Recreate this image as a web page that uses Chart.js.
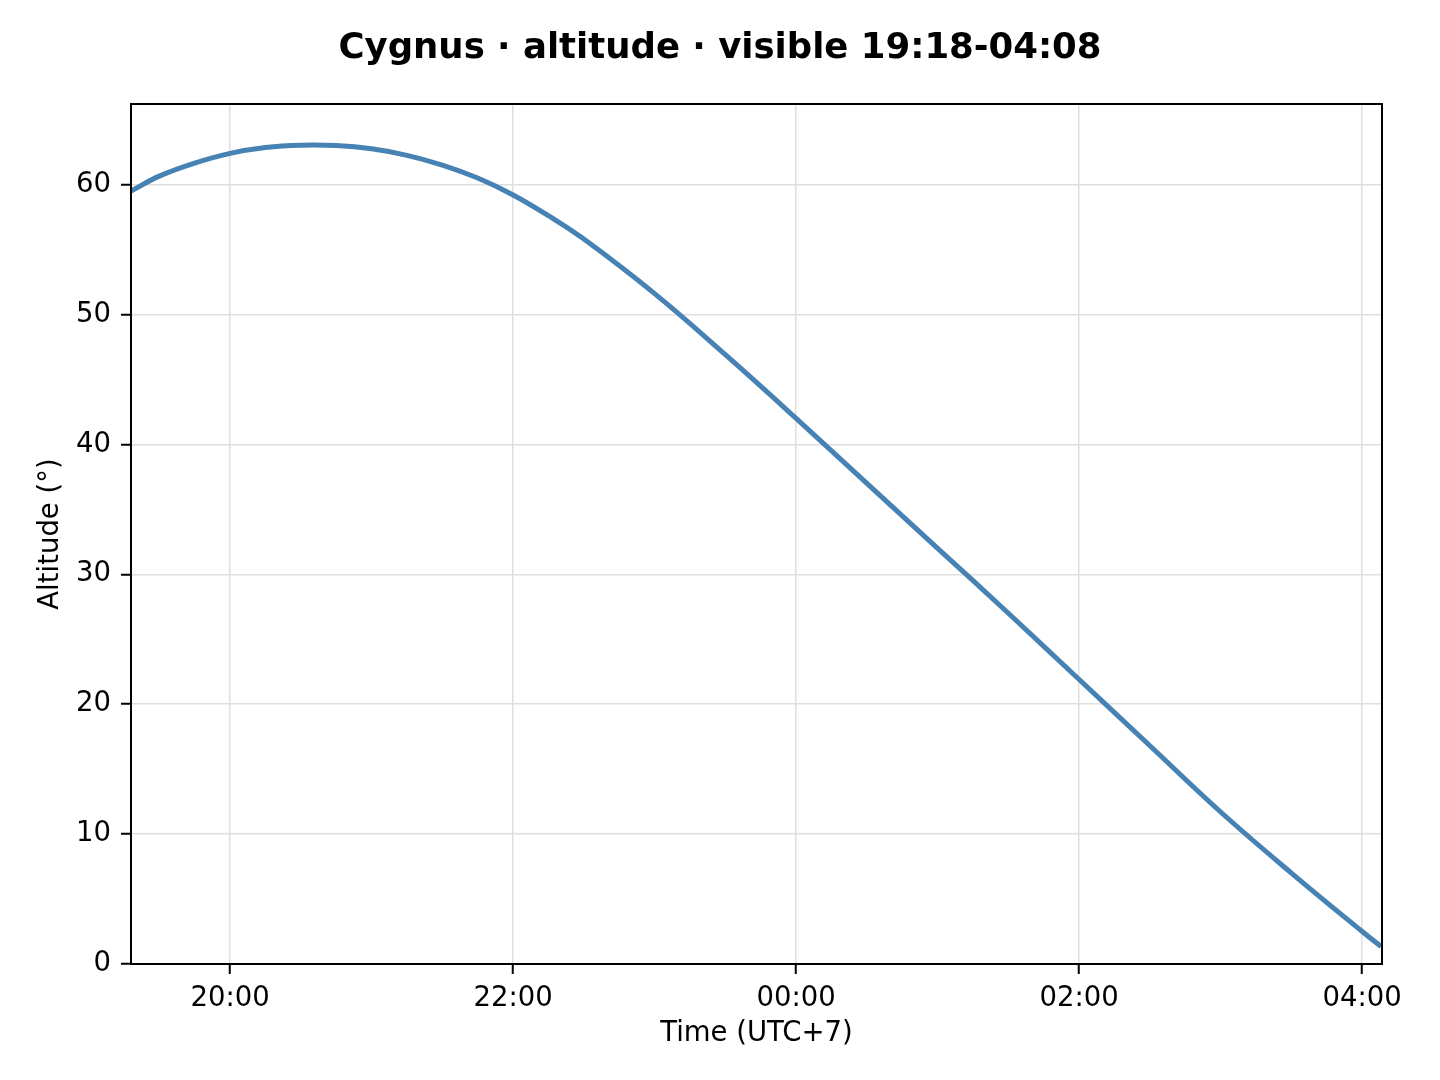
<!DOCTYPE html>
<html lang="en">
<head>
    <meta charset="UTF-8">
    <title>Cygnus altitude</title>
    <script src="https://cdn.jsdelivr.net/npm/chart.js"></script>
    <style>
        body { margin: 0; background: #fff; }
        #wrap { width: 1440px; height: 1080px; }
    </style>
</head>
<body>
    <div id="wrap">
        <canvas id="altChart" width="1440" height="1080"></canvas>
    </div>

    <script>
        // Time of each sample (local, UTC+7) and altitude
        const times = ['19:18', '19:30', '19:45', '20:00', '20:15', '20:30', '20:45', '21:00', '21:15', '21:30',
                       '21:45', '22:00', '22:15', '22:30', '23:00', '23:30', '00:00', '00:30', '01:00', '01:30',
                       '02:00', '02:30', '03:00', '03:30', '04:00', '04:08'];
        const altitude = [59.5, 60.65, 61.65, 62.4, 62.85, 63.03, 63.0, 62.75, 62.25, 61.5,
                          60.5, 59.2, 57.6, 55.8, 51.6, 46.9, 42.0, 37.0, 32.0, 27.0,
                          21.9, 16.8, 11.7, 7.0, 2.5, 1.35];
        const xTicks = [20, 22, 24, 26, 28]; // hours, >24 means after midnight
        const yTicks = [0, 10, 20, 30, 40, 50, 60];

        // "HH:MM" -> hours counted from the evening (after midnight gets +24)
        function toHours(t) {
            const [h, m] = t.split(':').map(Number);
            const v = h + m / 60;
            return v < 12 ? v + 24 : v;
        }

        const points = times.map((t, i) => ({ x: toHours(t), y: altitude[i] }));

        // frame around the plot area, like matplotlib axes
        const frame = {
            id: 'frame',
            afterDraw(chart) {
                const a = chart.chartArea, c = chart.ctx;
                c.save();
                c.strokeStyle = '#000';
                c.lineWidth = 2;
                c.strokeRect(a.left, a.top, a.right - a.left, a.bottom - a.top);
                c.restore();
            }
        };

        const font = { family: 'DejaVu Sans', size: 27.5 };

        new Chart(document.getElementById('altChart'), {
            type: 'line',
            data: {
                datasets: [{
                    data: points,
                    borderColor: '#4682b4',
                    borderWidth: 5,
                    pointRadius: 0,
                    tension: 0.4,
                    fill: false
                }]
            },
            options: {
                responsive: false,
                animation: false,
                devicePixelRatio: 1,
                layout: { padding: 0 },
                plugins: {
                    legend: { display: false },
                    tooltip: { enabled: false },
                    title: {
                        display: true,
                        text: 'Cygnus · altitude · visible 19:18-04:08',
                        color: '#000',
                        font: { family: 'DejaVu Sans', size: 35.5, weight: 'bold' },
                        padding: { top: 27, bottom: 34.4 }
                    }
                },
                scales: {
                    x: {
                        type: 'linear',
                        min: 19.3,
                        max: 28.14,
                        afterBuildTicks: s => { s.ticks = xTicks.map(v => ({ value: v })); },
                        afterFit: s => { s.height = 116; },
                        ticks: {
                            color: '#000',
                            font: font,
                            padding: 8,
                            maxRotation: 0,
                            callback: v => String(v % 24).padStart(2, '0') + ':00'
                        },
                        grid: { color: '#dfdfdf', lineWidth: 1.5, tickColor: '#000', tickLength: 10, tickWidth: 2 },
                        border: { color: '#000', width: 2 },
                        title: { display: true, text: 'Time (UTC+7)', color: '#000', font: font, padding: { top: 0, bottom: 30 } }
                    },
                    y: {
                        min: 0,
                        max: 66.2,
                        afterBuildTicks: s => { s.ticks = yTicks.map(v => ({ value: v })); },
                        afterFit: s => { s.width = 131; },
                        ticks: { color: '#000', font: font, padding: 10 },
                        grid: { color: '#dfdfdf', lineWidth: 1.5, tickColor: '#000', tickLength: 10, tickWidth: 2 },
                        border: { color: '#000', width: 2 },
                        title: { display: true, text: 'Altitude (°)', color: '#000', font: font, padding: { top: 34, bottom: 0 } }
                    },
                    // empty axis on the right only to keep the plot area where matplotlib puts it
                    yRight: {
                        position: 'right',
                        display: true,
                        afterFit: s => { s.width = 58; },
                        ticks: { display: false },
                        grid: { display: false },
                        border: { display: false }
                    }
                }
            },
            plugins: [frame]
        });
    </script>
</body>
</html>
